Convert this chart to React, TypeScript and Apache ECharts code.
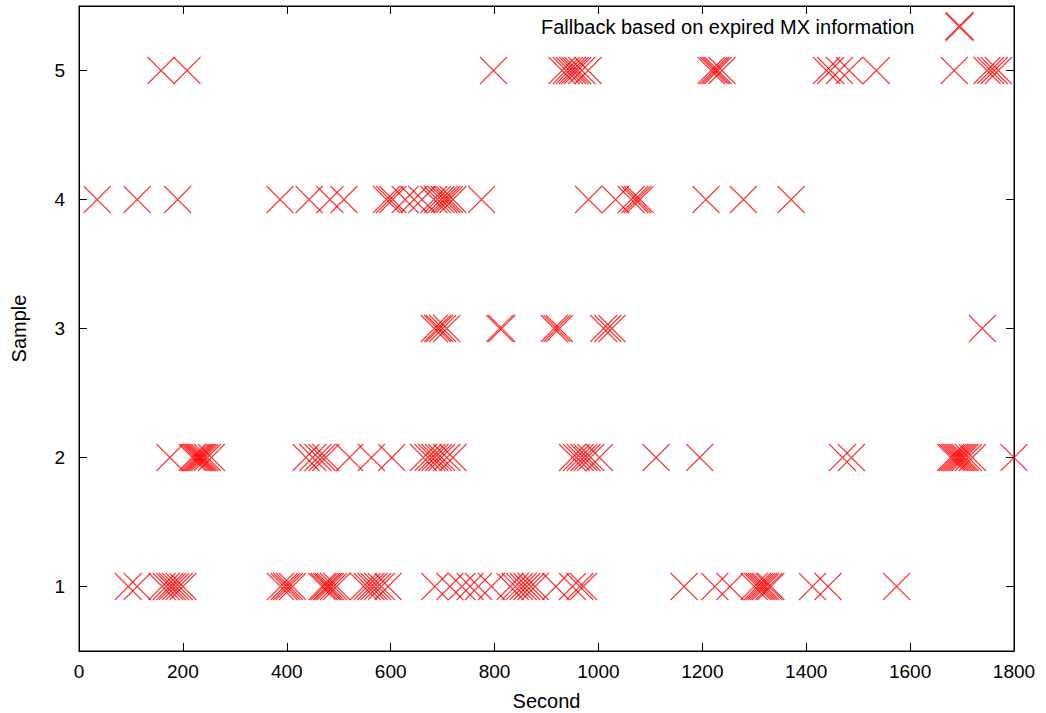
import React, { useEffect, useRef } from "react";
import * as echarts from "echarts";

const seriesName = "Fallback based on expired MX information";
const xTicks = [0, 200, 400, 600, 800, 1000, 1200, 1400, 1600, 1800];
const yTicks = [1, 2, 3, 4, 5];

const sample1 = [95, 112, 160, 168, 175, 180, 186, 193, 200, 388, 395, 400, 405, 411, 468, 472, 477, 480, 484, 490, 496, 548, 555, 562, 568, 575, 582, 595, 685, 714, 737, 753, 769, 794, 830, 840, 848, 855, 862, 870, 878, 918, 950, 964, 971, 1165, 1224, 1253, 1300, 1306, 1310, 1314, 1318, 1322, 1328, 1332, 1412, 1442, 1574];
const sample2 = [175, 218, 222, 226, 229, 232, 235, 238, 242, 247, 255, 437, 450, 460, 468, 475, 521, 563, 602, 663, 672, 679, 685, 692, 698, 708, 720, 950, 958, 965, 972, 978, 985, 1002, 1111, 1195, 1470, 1487, 1678, 1682, 1686, 1690, 1694, 1698, 1702, 1706, 1712, 1720, 1800];
const sample3 = [684, 690, 694, 700, 708, 810, 814, 915, 920, 925, 1010, 1018, 1026, 1739];
const sample4 = [35, 112, 190, 387, 443, 483, 510, 592, 598, 604, 628, 645, 660, 683, 690, 697, 703, 708, 713, 720, 775, 981, 1033, 1063, 1070, 1075, 1080, 1207, 1279, 1371];
const sample5 = [158, 208, 798, 930, 938, 944, 950, 955, 960, 968, 980, 1217, 1222, 1226, 1230, 1238, 1439, 1447, 1464, 1483, 1535, 1685, 1748, 1755, 1762, 1770];

const samples = [sample1, sample2, sample3, sample4, sample5];

export default function App() {
  const ref = useRef<HTMLDivElement>(null);
  useEffect(() => {
    if (!ref.current) return;
    const chart = echarts.init(ref.current, null, { renderer: "svg" });
    const data: number[][] = [];
    samples.forEach((arr, i) => arr.forEach((v) => data.push([v, yTicks[i]])));
    const font = "Liberation Sans";
    const axisLine = { show: true, onZero: false, lineStyle: { color: "#000", width: 1 } };
    const tick = { show: true, inside: true, length: 8, lineStyle: { color: "#000" } };
    chart.setOption({
      animation: false,
      textStyle: { fontFamily: font },
      grid: {
        left: 79,
        right: 32,
        top: 6,
        bottom: 62,
        outerBoundsMode: "none",
        containLabel: false,
        show: true,
        borderColor: "#000",
        borderWidth: 1,
        backgroundColor: "transparent",
      },
      legend: {
        show: true,
        right: 65,
        top: 5,
        align: "right",
        itemWidth: 28,
        itemHeight: 28,
        textStyle: { fontSize: 20, fontFamily: font, color: "#000", padding: [0, 26, 4, 0] },
        data: [seriesName],
      },
      xAxis: [
        {
          type: "value",
          min: 0,
          max: 1800,
          interval: 200,
          name: "Second",
          nameLocation: "middle",
          nameGap: 40,
          nameTextStyle: { fontSize: 20, color: "#000", fontFamily: font },
          axisLine,
          axisTick: tick,
          axisLabel: {
            fontSize: 19,
            color: "#000",
            margin: 11,
            fontFamily: font,
            formatter: (v: number) => (xTicks.includes(v) ? String(v) : ""),
          },
          splitLine: { show: false },
        },
        {
          type: "value",
          position: "top",
          min: 0,
          max: 1800,
          interval: 200,
          axisLine,
          axisTick: tick,
          axisLabel: { show: false },
          splitLine: { show: false },
        },
      ],
      yAxis: [
        {
          type: "value",
          min: 0.5,
          max: 5.5,
          name: "Sample",
          nameLocation: "middle",
          nameGap: 50,
          nameTextStyle: { fontSize: 20, color: "#000", fontFamily: font },
          axisLine,
          axisTick: { ...tick, customValues: yTicks },
          axisLabel: {
            fontSize: 19,
            color: "#000",
            margin: 14,
            fontFamily: font,
            customValues: yTicks,
          },
          splitLine: { show: false },
        },
        {
          type: "value",
          position: "right",
          min: 0.5,
          max: 5.5,
          axisLine,
          axisTick: { ...tick, customValues: yTicks },
          axisLabel: { show: false, customValues: yTicks },
          splitLine: { show: false },
        },
      ],
      series: [
        {
          name: seriesName,
          type: "scatter",
          symbol: "path://M0,0L10,10M10,0L0,10",
          symbolSize: 27,
          itemStyle: { color: "none", borderColor: "#ff0000", borderWidth: 1.1 },
          data,
        },
        {
          name: "mirror",
          type: "scatter",
          xAxisIndex: 1,
          yAxisIndex: 1,
          silent: true,
          data: [],
        },
      ],
    });
    return () => chart.dispose();
  }, []);
  return <div ref={ref} style={{ width: 1046, height: 713, position: "absolute", left: 0, top: 0 }} />;
}
